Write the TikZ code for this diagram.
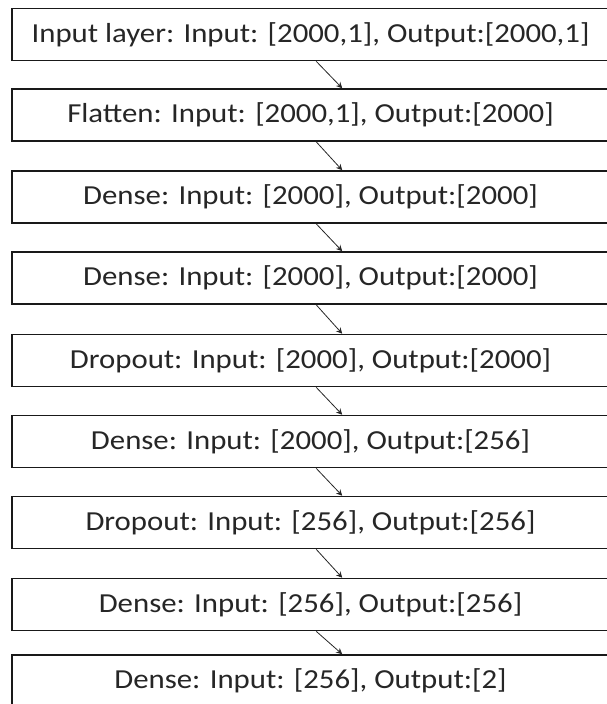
\documentclass[tikz,border=0pt]{standalone}
\usepackage{fontspec}
\usepackage{graphicx}
\setmainfont{Carlito}
\usetikzlibrary{calc,arrows.meta}
% layer captions are set slightly wide
\newcommand\layertext[1]{\scalebox{1.12}[1]{#1}}
\begin{document}
\begin{tikzpicture}[x=1pt,y=-1pt,
  layerbox/.style={draw=black!90, line width=1.6pt, fill=white,
    minimum width=597pt, minimum height=52pt, inner sep=0pt,
    font=\fontsize{27.5}{32}\selectfont, text=black!85},
  flowarrow/.style={draw=black!85, line width=0.8pt,
    -{Stealth[length=6pt,width=6pt]}}]
  \useasboundingbox (0,0) rectangle (607,704);
  % layer boxes, top to bottom
  \node[layerbox] (b1) at (310.5,34.5) {\layertext{Input layer: Input: [2000,1], Output:[2000,1]}};
  \node[layerbox] (b2) at (310.5,115) {\layertext{Flatten: Input: [2000,1], Output:[2000]}};
  \node[layerbox] (b3) at (310.5,197) {\layertext{Dense: Input: [2000], Output:[2000]}};
  \node[layerbox] (b4) at (310.5,278) {\layertext{Dense: Input: [2000], Output:[2000]}};
  \node[layerbox] (b5) at (310.5,360.5) {\layertext{Dropout: Input: [2000], Output:[2000]}};
  \node[layerbox] (b6) at (310.5,441.5) {\layertext{Dense: Input: [2000], Output:[256]}};
  \node[layerbox] (b7) at (310.5,522.5) {\layertext{Dropout: Input: [256], Output:[256]}};
  \node[layerbox] (b8) at (310.5,604.5) {\layertext{Dense: Input: [256], Output:[256]}};
  \node[layerbox] (b9) at (310.5,681) {\layertext{Dense: Input: [256], Output:[2]}};
  % slanted connectors between consecutive layers
  \foreach \i/\j in {b1/b2,b2/b3,b3/b4,b4/b5,b5/b6,b6/b7,b7/b8,b8/b9}
    \draw[flowarrow] ($(\i.south west)+(305,0)$) -- ($(\j.north west)+(331,0)$);
\end{tikzpicture}
\end{document}
